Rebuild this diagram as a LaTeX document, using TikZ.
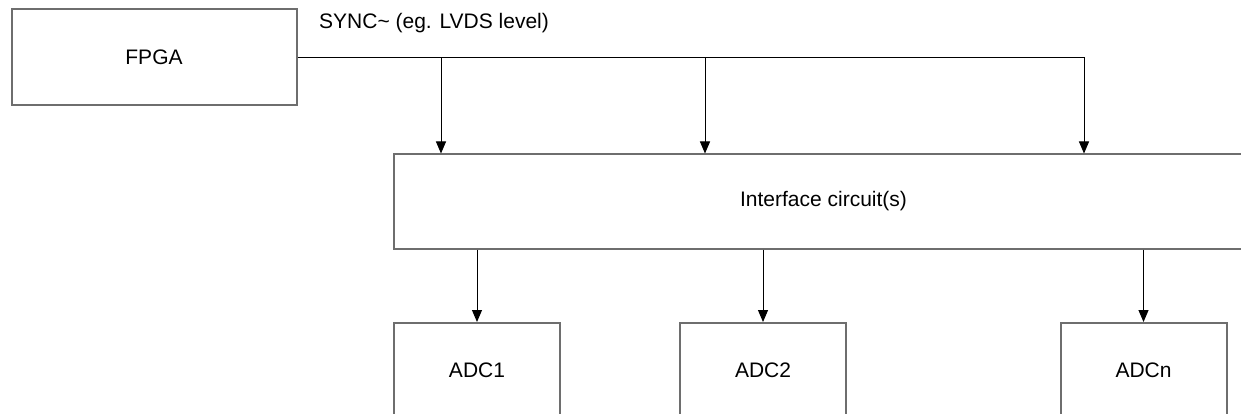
\documentclass[tikz,border=0pt]{standalone}
\usepackage{fontspec}
\setmainfont{Liberation Sans}
\usetikzlibrary{arrows.meta}
\definecolor{boxgray}{HTML}{6E6E6E}
\begin{document}
\begin{tikzpicture}[x=1pt,y=-1pt,
  blk/.style={draw=boxgray,line width=2pt,fill=white,rectangle,inner sep=0pt,
    font=\fontsize{21}{25}\selectfont},
  wire/.style={draw=black,line width=1pt},
  arr/.style={wire,-{Triangle[length=12pt,width=10pt]}},
  lbl/.style={font=\fontsize{21}{25}\selectfont,inner sep=0pt,anchor=west}]
\clip (0,0) rectangle (1241,414);
\fill[white] (0,0) rectangle (1241,414);
\node[blk,minimum width=285pt,minimum height=96pt] (fpga) at (154,57.5) {FPGA};
\node[blk,minimum width=859pt,minimum height=94pt] (iface) at (823.5,201.5) {Interface circuit(s)};
\node[blk,minimum width=166pt,minimum height=94pt,anchor=north] (adc1) at (477,322) {ADC1};
\node[blk,minimum width=166pt,minimum height=94pt,anchor=north] (adc2) at (763,322) {ADC2};
\node[blk,minimum width=166pt,minimum height=94pt,anchor=north] (adcn) at (1143.5,322) {ADCn};
\node[lbl] (sync) at (319,23) {SYNC\char`\~{} (eg. LVDS level)};
\coordinate (t1) at (441,57.5);
\coordinate (t2) at (705,57.5);
\coordinate (t3) at (1084,57.5);
\draw[wire] (fpga.east) -- (t3);
\draw[arr] (t1) -- (t1 |- iface.north);
\draw[arr] (t2) -- (t2 |- iface.north);
\draw[arr] (t3) -- (t3 |- iface.north);
\draw[arr] (adc1.north |- iface.south) -- (adc1.north);
\draw[arr] (adc2.north |- iface.south) -- (adc2.north);
\draw[arr] (adcn.north |- iface.south) -- (adcn.north);
\end{tikzpicture}
\end{document}
